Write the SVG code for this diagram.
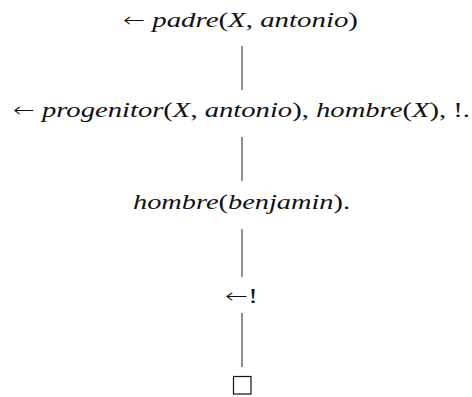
<svg xmlns="http://www.w3.org/2000/svg" width="472" height="397" viewBox="0 0 472 397">
<style>
text{font-family:"Liberation Serif",serif;font-size:22px;fill:#111;text-anchor:middle}
.i{font-style:italic}
.a{font-family:"DejaVu Sans",sans-serif;font-size:20px;font-weight:300}
.conn line{stroke:#555;stroke-width:1.3}
</style>
<rect width="472" height="397" fill="#fff"/>
<g class="conn" id="connectors">
<line x1="242" y1="46" x2="242" y2="90"/>
<line x1="242" y1="137" x2="242" y2="181"/>
<line x1="242" y1="229" x2="242" y2="277"/>
<line x1="242" y1="313" x2="242" y2="367"/>
</g>
<g id="n1"><text x="240.5" y="27" textLength="235" lengthAdjust="spacingAndGlyphs"><tspan class="a">←</tspan> <tspan class="i">padre</tspan>(<tspan class="i">X</tspan>, <tspan class="i">antonio</tspan>)</text></g>
<g id="n2"><text x="241.5" y="117" textLength="457" lengthAdjust="spacingAndGlyphs"><tspan class="a">←</tspan> <tspan class="i">progenitor</tspan>(<tspan class="i">X</tspan>, <tspan class="i">antonio</tspan>), <tspan class="i">hombre</tspan>(<tspan class="i">X</tspan>), !.</text></g>
<g id="n3"><text x="241.5" y="209" textLength="217" lengthAdjust="spacingAndGlyphs"><tspan class="i">hombre</tspan>(<tspan class="i">benjamin</tspan>).</text></g>
<g id="n4"><text x="241.5" y="303" textLength="33" lengthAdjust="spacingAndGlyphs"><tspan class="a">←</tspan>!</text></g>
<g id="n5"><rect x="233.5" y="376.5" width="17.5" height="17.5" fill="none" stroke="#111" stroke-width="1.2"/></g>
</svg>
